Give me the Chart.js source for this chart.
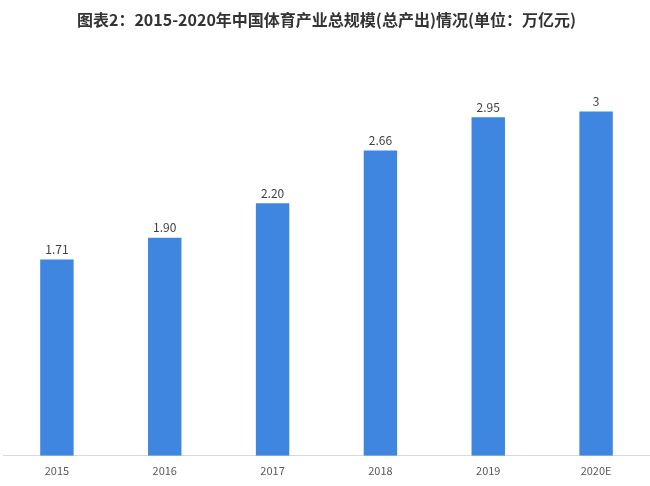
<!DOCTYPE html>
<html>
<head>
<meta charset="utf-8">
<script src="https://cdn.jsdelivr.net/npm/chart.js@4"></script>
<style>
  html, body { margin: 0; padding: 0; background: #fff; }
  #wrap { width: 650px; height: 486px; position: relative; }
</style>
</head>
<body>
<div id="wrap"><canvas id="chart"></canvas></div>
<script>
// 2015-2020 China sports industry total output (trillion yuan)
const years = ["2015", "2016", "2017", "2018", "2019", "2020E"];
const output = [1.71, 1.90, 2.20, 2.66, 2.95, 3];
const valueLabels = ["1.71", "1.90", "2.20", "2.66", "2.95", "3"];

const FONT = '"Noto Sans CJK SC", "Noto Sans", sans-serif';

// draws the number above each bar
const barValues = {
  id: "barValues",
  afterDatasetsDraw(chart) {
    const ctx = chart.ctx;
    const meta = chart.getDatasetMeta(0);
    ctx.save();
    ctx.font = `12px ${FONT}`;
    ctx.fillStyle = "#404040";
    ctx.textAlign = "center";
    ctx.textBaseline = "bottom";
    meta.data.forEach((bar, i) => ctx.fillText(valueLabels[i], bar.x, bar.y - 4));
    ctx.restore();
  },
};

new Chart(document.getElementById("chart"), {
  type: "bar",
  data: {
    labels: years,
    datasets: [{
      data: output,
      backgroundColor: "#3E86E0",
      categoryPercentage: 1,
      barPercentage: 0.31,
    }],
  },
  options: {
    responsive: true,
    maintainAspectRatio: false,
    animation: false,
    layout: { padding: { left: 3, right: 0, top: 0, bottom: 9 } },
    plugins: {
      legend: { display: false },
      tooltip: { enabled: false },
      title: {
        display: true,
        text: "图表2：2015-2020年中国体育产业总规模(总产出)情况(单位：万亿元)",
        color: "#333",
        font: { family: FONT, size: 16, weight: "bold" },
        padding: { top: 10, bottom: 25 },
      },
    },
    scales: {
      x: {
        grid: { display: false },
        border: { display: true, color: "#d9d9d9" },
        ticks: { color: "#595959", font: { family: FONT, size: 11 }, padding: 0 },
      },
      y: {
        display: false,
        min: 0,
        max: 3.5,
      },
    },
  },
  plugins: [barValues],
});
</script>
</body>
</html>
